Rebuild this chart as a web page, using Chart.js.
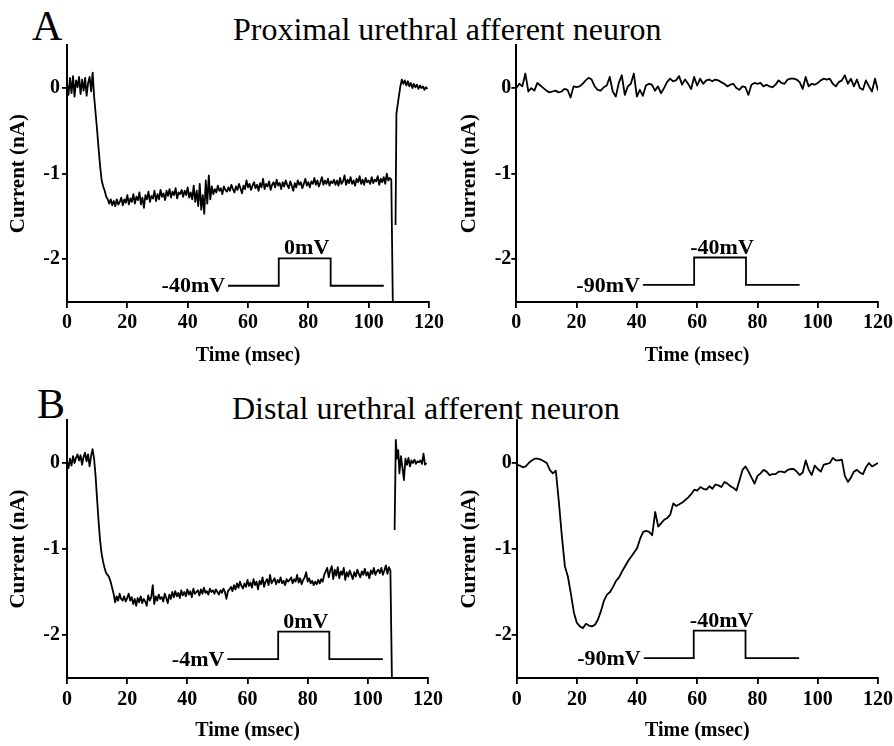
<!DOCTYPE html>
<html>
<head>
<meta charset="utf-8">
<title>Urethral afferent neuron currents</title>
<script src="https://cdn.jsdelivr.net/npm/chart.js@4.4.1/dist/chart.umd.min.js"></script>
<style>
  body { margin: 0; background: #fff; }
  #figure { position: relative; width: 894px; height: 746px; overflow: hidden;
            font-family: "Liberation Serif", "Times New Roman", serif; color: #000; }
  #figure canvas { position: absolute; }
  .panel-letter { position: absolute; font-size: 42px; line-height: 42px; }
  .panel-title { position: absolute; font-size: 32px; line-height: 32px; white-space: nowrap; }
</style>
</head>
<body>
<div id="figure">
  <div class="panel-letter" style="left:32px; top:5px;">A</div>
  <div class="panel-title" style="left:233px; top:13px;">Proximal urethral afferent neuron</div>
  <div class="panel-letter" style="left:37px; top:383px;">B</div>
  <div class="panel-title" style="left:232px; top:392px;">Distal urethral afferent neuron</div>

  <canvas id="chartProxHold" width="446" height="336" style="left:0; top:40px;"></canvas>
  <canvas id="chartProxRest" width="446" height="336" style="left:448px; top:40px;"></canvas>
  <canvas id="chartDistHold" width="446" height="332" style="left:0; top:414px;"></canvas>
  <canvas id="chartDistRest" width="446" height="332" style="left:448px; top:414px;"></canvas>
</div>

<script>
/************** data ************/

// axis ticks
const timeTicks = [0, 20, 40, 60, 80, 100, 120];
const currentTicks = [0, -1, -2];

// sampling interval of the traces (msec)
const sampleStepFast = 0.5;
const sampleStepSlow = 1;

// A left : proximal, held at -40mV, stepped to 0mV (t = 0 .. 107.5)
const proxHoldCurrent = [
    0.05, -0.08, 0.12, -0.06, 0.14, -0.1, 0.09, 0.01, 0.13, -0.07,
    0.1, -0.03, 0.12, -0.09, 0.06, 0.13, -0.04, 0.18,
    -0.1, -0.3, -0.5, -0.72, -0.92, -1.08, -1.15, -1.2, -1.27, -1.3,
    -1.35, -1.3, -1.37, -1.32, -1.38, -1.3, -1.36, -1.33, -1.28, -1.37,
    -1.3, -1.34, -1.25, -1.36, -1.29, -1.33, -1.24, -1.35, -1.27, -1.31,
    -1.22, -1.36, -1.28, -1.4, -1.25, -1.3, -1.21, -1.33, -1.26, -1.29,
    -1.2, -1.32, -1.24, -1.3, -1.19, -1.27, -1.23, -1.31, -1.2, -1.26,
    -1.18, -1.28, -1.21, -1.25, -1.17, -1.29, -1.22, -1.24, -1.19, -1.27,
    -1.2, -1.25, -1.16, -1.28, -1.22, -1.3, -1.14, -1.33, -1.2, -1.38,
    -1.12, -1.42, -1.25, -1.47, -1.08, -1.35, -1.02, -1.3, -1.15, -1.24,
    -1.18, -1.22, -1.14, -1.2, -1.17, -1.24, -1.15, -1.19, -1.21, -1.16,
    -1.2, -1.13, -1.18, -1.22, -1.15, -1.19, -1.12, -1.17, -1.23, -1.14,
    -1.18, -1.08, -1.16, -1.12, -1.19, -1.14, -1.1, -1.17, -1.13, -1.2,
    -1.11, -1.16, -1.06, -1.18, -1.12, -1.15, -1.09, -1.19, -1.13, -1.1,
    -1.16, -1.07, -1.14, -1.11, -1.18, -1.1, -1.15, -1.08, -1.13, -1.17,
    -1.09, -1.14, -1.2, -1.11, -1.16, -1.08, -1.13, -1.1, -1.17, -1.12,
    -1.06, -1.14, -1.1, -1.16, -1.09, -1.12, -1.05, -1.13, -1.08, -1.15,
    -1.1, -1.04, -1.13, -1.08, -1.12, -1.06, -1.14, -1.09, -1.11, -1.07,
    -1.13, -1.08, -1.14, -1.05, -1.12, -1.09, -1.02, -1.13, -1.07, -1.11,
    -1.04, -1.12, -1.08, -1.14, -1.06, -1.1, -1.03, -1.12, -1.07, -1.13,
    -1.05, -1.1, -1.08, -1.12, -1.04, -1.11, -1.07, -1.09, -1.03, -1.13,
    -1.06, -1.1, -1.04, -1.12, -1.0, -1.08, -1.05, -1.07
];
// capacitive transient after the step (null = off scale)
const proxHoldTailTime = [108, 108.5, 108.9, 109.2, 109.6, 110, 110.5, 111, 111.5, 112, 112.5, 113, 113.5,
    114, 114.5, 115, 115.5, 116, 116.5, 117, 117.5, 118, 118.5, 119, 119.5];
const proxHoldTailCurrent = [-2.5, null, -1.6, -0.3, -0.2, -0.1, 0.02, 0.1, 0.05, 0.09, 0.03, 0.08, 0.02,
    0.06, 0.0, 0.05, 0.01, 0.04, -0.01, 0.03, 0.0, 0.02, -0.02, 0.01, -0.01];

// A right : proximal, held at -90mV, stepped to -40mV (t = 0 .. 120)
const proxRestCurrent = [
    0.0, 0.05, 0.02, 0.17, -0.04, 0.0, -0.03, 0.06, 0.03, 0.0,
    -0.03, -0.05, -0.04, -0.03, -0.05, -0.04, -0.01, -0.02, -0.11, 0.02,
    0.01, 0.02, 0.05, 0.09, 0.12, 0.1, 0.02, -0.02, -0.03, 0.01,
    0.03, 0.13, -0.04, -0.1, 0.06, 0.15, -0.08, 0.02, 0.05, 0.17,
    -0.1, -0.02, -0.09, 0.03, 0.05, 0.04, -0.03, 0.02, -0.06, 0.0,
    0.07, 0.11, 0.08, 0.09, 0.14, 0.04, 0.1, 0.05, -0.01, 0.13,
    0.03, 0.11, 0.05, 0.09, 0.1, 0.08, 0.1, 0.09, 0.07, 0.05,
    0.02, 0.04, 0.05, 0.0, -0.02, 0.02, 0.01, -0.08, 0.04, 0.06,
    0.05, 0.06, 0.02, 0.04, 0.02, 0.01, 0.04, 0.09, 0.06, 0.05,
    0.1, 0.11, 0.11, 0.1, 0.07, -0.01, 0.13, 0.02, 0.05, 0.04,
    0.06, 0.09, 0.11, 0.1, 0.11, 0.05, 0.02, 0.07, 0.09, 0.15,
    0.05, 0.11, 0.02, 0.1, 0.0, -0.02, 0.09, 0.02, -0.04, 0.11,
    -0.03
];

// B left : distal, held at -4mV, stepped to 0mV (t = 0 .. 107.5)
const distHoldCurrent = [
    0.02, -0.06, 0.05, -0.03, 0.08, 0.0, 0.06, 0.1, 0.03, 0.09,
    -0.02, 0.07, 0.12, 0.02, 0.1, -0.04, 0.08, 0.16,
    0.05, -0.15, -0.42, -0.68, -0.9, -1.05, -1.15, -1.22, -1.28, -1.3,
    -1.33, -1.38, -1.45, -1.52, -1.62, -1.55, -1.6, -1.52, -1.58, -1.6,
    -1.55, -1.61, -1.57, -1.52, -1.6, -1.56, -1.64, -1.58, -1.66, -1.57,
    -1.62, -1.55, -1.63, -1.58, -1.61, -1.66, -1.54, -1.6, -1.56, -1.42,
    -1.64, -1.55, -1.6, -1.53, -1.58, -1.56, -1.61, -1.52, -1.57, -1.63,
    -1.53, -1.58, -1.5, -1.56, -1.49, -1.55, -1.51, -1.57, -1.48, -1.54,
    -1.5, -1.55, -1.47, -1.53, -1.49, -1.56, -1.46, -1.52, -1.5, -1.48,
    -1.54, -1.47, -1.52, -1.45, -1.51, -1.49, -1.53, -1.46, -1.5, -1.48,
    -1.52, -1.47, -1.5, -1.53, -1.48, -1.51, -1.46, -1.5, -1.58, -1.49,
    -1.47, -1.44, -1.49, -1.42, -1.47, -1.4, -1.45, -1.38, -1.43, -1.46,
    -1.4, -1.44, -1.36, -1.43, -1.39, -1.45, -1.35, -1.42, -1.38, -1.47,
    -1.37, -1.41, -1.33, -1.44, -1.38, -1.35, -1.42, -1.3, -1.4, -1.37,
    -1.34, -1.41, -1.36, -1.39, -1.33, -1.4, -1.37, -1.42, -1.35, -1.38,
    -1.36, -1.33, -1.4, -1.35, -1.38, -1.3, -1.39, -1.34, -1.41, -1.36,
    -1.33, -1.27, -1.38, -1.34, -1.4, -1.37, -1.42, -1.38, -1.41, -1.36,
    -1.4, -1.35, -1.38, -1.3, -1.26, -1.22, -1.33, -1.25, -1.2, -1.35,
    -1.24, -1.31, -1.21, -1.34, -1.26, -1.3, -1.22, -1.36, -1.27, -1.32,
    -1.25, -1.3, -1.35, -1.27, -1.32, -1.24, -1.29, -1.33, -1.26, -1.3,
    -1.23, -1.31, -1.27, -1.34, -1.25, -1.29, -1.22, -1.3, -1.26, -1.24,
    -1.28, -1.22, -1.3, -1.25, -1.19, -1.29, -1.21, -1.25
];
const distHoldTailTime = [108, 108.5, 108.9, 109.3, 109.7, 110.1, 110.5, 111, 111.5, 112, 112.5, 113, 113.5,
    114, 114.5, 115, 115.5, 116, 116.5, 117, 117.5, 118, 118.5, 119, 119.5];
const distHoldTailCurrent = [-2.5, null, -0.78, 0.27, 0.05, 0.15, -0.12, 0.08, -0.05, -0.2, 0.05, -0.02, 0.06,
    -0.04, 0.03, 0.0, 0.04, -0.01, 0.02, 0.01, 0.03, -0.01, 0.11, -0.02, 0.0];

// B right : distal, held at -90mV, stepped to -40mV (t = 0 .. 120)
const distRestCurrent = [
    -0.02, -0.03, -0.05, -0.04, 0.0, 0.03, 0.05, 0.05, 0.04, 0.02,
    0.0, -0.08, -0.12, -0.09, -0.45, -0.85, -1.2, -1.32, -1.52, -1.74,
    -1.86, -1.9, -1.92, -1.87, -1.89, -1.9, -1.88, -1.82, -1.72, -1.6,
    -1.53, -1.5, -1.44, -1.37, -1.33, -1.26, -1.2, -1.14, -1.09, -1.04,
    -0.99, -0.88, -0.8, -0.79, -0.8, -0.84, -0.57, -0.74, -0.7, -0.66,
    -0.64, -0.6, -0.47, -0.5, -0.48, -0.46, -0.43, -0.4, -0.36, -0.31,
    -0.32, -0.28, -0.3, -0.31, -0.27, -0.3, -0.25, -0.26, -0.28, -0.22,
    -0.24, -0.27, -0.29, -0.32, -0.2, -0.08, -0.04, -0.1, -0.17, -0.24,
    -0.15, -0.12, -0.08, -0.1, -0.14, -0.13, -0.13, -0.1, -0.1, -0.11,
    -0.08, -0.07, -0.07, -0.1, -0.14, -0.11, 0.03, -0.08, -0.14, -0.03,
    -0.07, -0.1, -0.02, -0.01, 0.0, 0.06, 0.03, 0.03, 0.04, -0.15,
    -0.22, -0.17, -0.1, -0.08, -0.11, -0.13, -0.05, 0.0, -0.04, -0.02,
    0.0
];

// voltage protocol inset, drawn on the current axis
const protoProxHoldTime = [53.4, 70.2, 70.2, 87.4, 87.4, 105];
const protoProxHoldLevel = [-2.31, -2.31, -1.99, -1.99, -2.31, -2.31];
const protoProxHoldText = ['-40mV', '0mV'];

const protoProxRestTime = [42, 59, 59, 76.2, 76.2, 94];
const protoProxRestLevel = [-2.3, -2.3, -1.98, -1.98, -2.3, -2.3];
const protoProxRestText = ['-90mV', '-40mV'];

const protoDistHoldTime = [53.3, 70.2, 70.2, 87.2, 87.2, 105];
const protoDistHoldLevel = [-2.28, -2.28, -1.96, -1.96, -2.28, -2.28];
const protoDistHoldText = ['-4mV', '0mV'];

const protoDistRestTime = [42.2, 58.8, 58.8, 76, 76, 93.8];
const protoDistRestLevel = [-2.27, -2.27, -1.95, -1.95, -2.27, -2.27];
const protoDistRestText = ['-90mV', '-40mV'];

/************** chart ************/

const serif = '"Liberation Serif", "Times New Roman", serif';
Chart.defaults.font.family = serif;
Chart.defaults.color = '#000';

// sampled trace + optional explicit tail -> {x, y}
function getTrace(current, step, tailTime, tailCurrent) {
    const points = current.map((v, i) => ({ x: i * step, y: v }));
    if (tailTime) {
        tailTime.forEach((t, i) => points.push({ x: t, y: tailCurrent[i] }));
    }
    return points;
}

function getPoints(time, level) {
    return time.map((t, i) => ({ x: t, y: level[i] }));
}

// holding / step voltage labels
const protocolLabels = {
    id: 'protocolLabels',
    afterDatasetsDraw(chart, args, opts) {
        const { ctx, scales: { x, y } } = chart;
        ctx.save();
        ctx.font = 'bold 22px ' + serif;
        ctx.fillStyle = '#000';
        ctx.textAlign = 'right';
        ctx.textBaseline = 'middle';
        ctx.fillText(opts.text[0], x.getPixelForValue(opts.time[0]) - 3, y.getPixelForValue(opts.level[0]) + 1);
        ctx.textAlign = 'center';
        ctx.textBaseline = 'alphabetic';
        ctx.fillText(opts.text[1], x.getPixelForValue((opts.time[1] + opts.time[3]) / 2) + 2, y.getPixelForValue(opts.level[2]) - 4);
        ctx.restore();
    }
};

function getChart(id, panel) {
    const ctx = document.getElementById(id);

    new Chart(ctx, {
        type: 'line',
        data: {
            datasets: [{
                data: panel.trace,
                borderColor: '#000',
                borderWidth: 1.8,
                borderJoinStyle: 'round',
                pointRadius: 0,
                spanGaps: false
            }, {
                data: getPoints(panel.time, panel.level),
                borderColor: '#000',
                borderWidth: 1.8,
                pointRadius: 0
            }]
        },
        options: {
            responsive: false,
            animation: false,
            devicePixelRatio: 1,
            layout: { padding: { top: panel.padTop, right: panel.padRight, bottom: 0, left: 0 } },
            plugins: {
                legend: { display: false },
                tooltip: { enabled: false },
                protocolLabels: { time: panel.time, level: panel.level, text: panel.text }
            },
            scales: {
                x: {
                    type: 'linear',
                    min: 0,
                    max: 120,
                    afterBuildTicks: scale => { scale.ticks = timeTicks.map(v => ({ value: v })); },
                    afterFit: scale => {
                        scale.height = panel.xHeight;
                        scale.paddingLeft = 0;
                        scale.paddingRight = 0;
                    },
                    grid: { drawOnChartArea: false, tickLength: 6, color: '#000', lineWidth: 1.8 },
                    border: { color: '#000', width: 2 },
                    ticks: {
                        padding: panel.xTickPad,
                        maxRotation: 0,
                        font: { size: 20, weight: 'bold' },
                        callback: v => String(v)
                    },
                    title: {
                        display: true,
                        text: 'Time (msec)',
                        font: { size: 20, weight: 'bold', lineHeight: 1 },
                        padding: { top: 0, bottom: panel.xTitlePad }
                    }
                },
                y: {
                    min: -2.5,
                    max: 0.5,
                    afterBuildTicks: scale => { scale.ticks = currentTicks.map(v => ({ value: v })); },
                    afterFit: scale => {
                        scale.width = panel.yWidth;
                        scale.paddingTop = 0;
                        scale.paddingBottom = 0;
                    },
                    grid: { drawOnChartArea: false, tickLength: 5, color: '#000', lineWidth: 1.8 },
                    border: { color: '#000', width: 2 },
                    ticks: {
                        padding: panel.yTickPad,
                        font: { size: 20, weight: 'bold' },
                        callback: v => String(v)
                    },
                    title: {
                        display: true,
                        text: 'Current (nA)',
                        font: { size: 21, weight: 'bold', lineHeight: 1 },
                        padding: { top: panel.yTitlePad, bottom: 0 }
                    }
                }
            }
        },
        plugins: [protocolLabels]
    });
}

window.addEventListener('DOMContentLoaded', function() {
    // A : proximal urethral afferent neuron
    getChart('chartProxHold', {
        trace: getTrace(proxHoldCurrent, sampleStepFast, proxHoldTailTime, proxHoldTailCurrent),
        time: protoProxHoldTime, level: protoProxHoldLevel, text: protoProxHoldText,
        yWidth: 67, xHeight: 74, padTop: 5.3, padRight: 17,
        xTickPad: 3, yTickPad: 2, xTitlePad: 10, yTitlePad: 8
    });
    getChart('chartProxRest', {
        trace: getTrace(proxRestCurrent, sampleStepSlow),
        time: protoProxRestTime, level: protoProxRestLevel, text: protoProxRestText,
        yWidth: 68.3, xHeight: 74, padTop: 5.3, padRight: 16,
        xTickPad: 3, yTickPad: 0, xTitlePad: 10, yTitlePad: 11.5
    });

    // B : distal urethral afferent neuron
    getChart('chartDistHold', {
        trace: getTrace(distHoldCurrent, sampleStepFast, distHoldTailTime, distHoldTailCurrent),
        time: protoDistHoldTime, level: protoDistHoldLevel, text: protoDistHoldText,
        yWidth: 67, xHeight: 68, padTop: 6, padRight: 18,
        xTickPad: 4, yTickPad: 2, xTitlePad: 5, yTitlePad: 8
    });
    getChart('chartDistRest', {
        trace: getTrace(distRestCurrent, sampleStepSlow),
        time: protoDistRestTime, level: protoDistRestLevel, text: protoDistRestText,
        yWidth: 68.7, xHeight: 68, padTop: 6, padRight: 16,
        xTickPad: 4, yTickPad: 0, xTitlePad: 5, yTitlePad: 11.5
    });
});
</script>
</body>
</html>
